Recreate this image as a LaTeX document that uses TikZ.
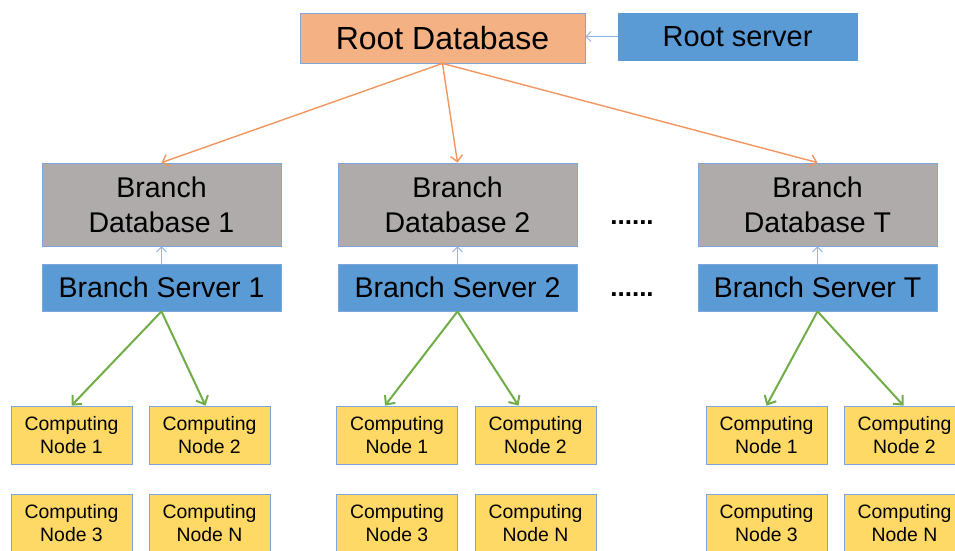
\documentclass[tikz,border=0pt]{standalone}
\usepackage{fontspec}
\setmainfont{Liberation Sans}
\usetikzlibrary{arrows.meta}

\definecolor{dborange}{HTML}{F4B183}
\definecolor{dbgray}{HTML}{AFABAB}
\definecolor{srvblue}{HTML}{5B9BD5}
\definecolor{cnyellow}{HTML}{FFD966}
\definecolor{boxline}{HTML}{7EA6DA}
\definecolor{arrorange}{HTML}{F0965E}
\definecolor{arrgreen}{HTML}{70AD47}
\definecolor{arrblue}{HTML}{8DB4E2}

\tikzset{
  box/.style = {draw=boxline, line width=0.8pt, align=center, inner sep=0pt},
  rootbox/.style = {box, fill=dborange, minimum width=285pt, minimum height=50pt,
                    font=\fontsize{32}{38}\selectfont},
  rootsrvbox/.style = {box, draw=srvblue, fill=srvblue, minimum width=239pt, minimum height=47pt,
                    font=\fontsize{29}{34}\selectfont},
  dbbox/.style = {box, fill=dbgray, minimum width=239pt, minimum height=83pt,
                  font=\fontsize{28.5}{35}\selectfont},
  srvbox/.style = {box, fill=srvblue, minimum width=239pt, minimum height=47pt,
                   font=\fontsize{28.5}{34}\selectfont},
  cnbox/.style = {box, fill=cnyellow, minimum width=121pt, minimum height=58pt,
                  font=\fontsize{19.4}{22.5}\selectfont},
  moredots/.style = {anchor=base, font=\bfseries\fontsize{26}{30}\selectfont},
  toroot/.style = {-{Straight Barb[length=5pt,width=10pt]}, draw=arrblue, line width=0.9pt},
  tobranch/.style = {-{Straight Barb[length=6pt,width=12pt]}, draw=arrorange, line width=1.4pt},
  toup/.style = {-{Straight Barb[length=5pt,width=10pt]}, draw=arrblue, line width=0.9pt},
  tocn/.style = {-{Straight Barb[length=7pt,width=13pt]}, draw=arrgreen, line width=2pt}
}

\begin{document}
\begin{tikzpicture}[x=1pt, y=-1pt]
\useasboundingbox (0,0) rectangle (955,550);

\node [rootbox] (rootdb) at (442.5,38) {Root Database};
\node [rootsrvbox] (rootsrv) at (737.5,36.5) {Root server};
\draw [toroot] (rootsrv.west) -- (rootdb.east |- rootsrv.west);

% one branch per column: database, server and its computing nodes
\foreach \bx/\id/\lx/\rx/\ls/\rs in {161.5/1/71.5/209.5/0/-4, 457.5/2/397/535.5/-12/-17, 817.5/T/766.5/904.5/0/-1}
{
\node [dbbox] (bdb\id) at (\bx,204.5) {Branch\\Database \id};
\node [srvbox] (bsrv\id) at (\bx,287.5) {Branch Server \id};
\node [cnbox] (cna\id) at (\lx,435) {Computing\\Node 1};
\node [cnbox] (cnb\id) at (\rx,435) {Computing\\Node 2};
\node [cnbox] (cnc\id) at (\lx,523) {Computing\\Node 3};
\node [cnbox] (cnd\id) at (\rx,523) {Computing\\Node N};
\draw [tobranch] (rootdb.south) -- (bdb\id.north);
\draw [toup] (bsrv\id.north) -- (bdb\id.south);
\draw [tocn] (bsrv\id.south) -- ([xshift=\ls]cna\id.north);
\draw [tocn] (bsrv\id.south) -- ([xshift=\rs]cnb\id.north);
}

\node [moredots] (dotsdb) at (632,224) {......};
\node [moredots] (dotssrv) at (632,296) {......};
\end{tikzpicture}
\end{document}
